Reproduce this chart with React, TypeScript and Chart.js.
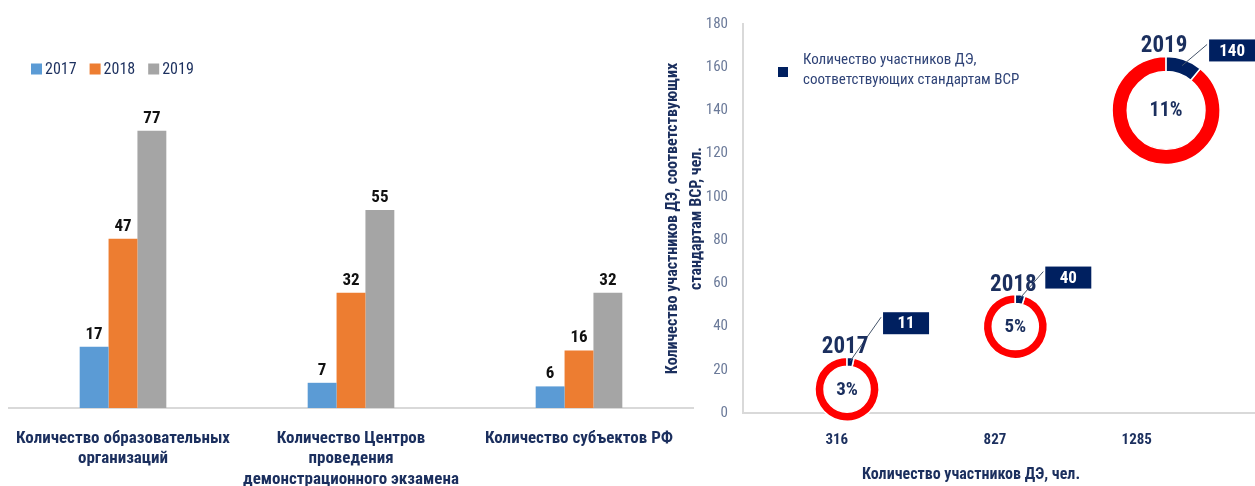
import React, { useEffect, useRef } from 'react';
import { Chart, registerables } from 'chart.js';

Chart.register(...registerables);

const FONT = "'Roboto Condensed', Roboto, sans-serif";
const NAVY = '#1B2F5E';
const NAVY_FILL = '#002060';

// ---- Left chart data ----
const barCategories: string[][] = [
  ['Количество образовательных', 'организаций'],
  ['Количество Центров', 'проведения', 'демонстрационного экзамена'],
  ['Количество субъектов РФ'],
];
const seriesLabels = ['2017', '2018', '2019'];
const series2017 = [17, 7, 6];
const series2018 = [47, 32, 16];
const series2019 = [77, 55, 32];
const seriesColors = ['#5B9BD5', '#ED7D31', '#A5A5A5'];

// ---- Right chart data ----
const ringYears = ['2017', '2018', '2019'];
const totalParticipants = [316, 827, 1285];
const compliantParticipants = [11, 40, 140];
const rightYTicks = [0, 20, 40, 60, 80, 100, 120, 140, 160, 180];
const rightLegendLines = ['Количество участников ДЭ,', 'соответствующих стандартам ВСР'];
const rightYTitle = ['Количество участников ДЭ, соответствующих', 'стандартам ВСР, чел.'];
const rightXTitle = 'Количество участников ДЭ, чел.';

// ---- styles (not data) ----
const ringRadius = [32, 32, 54];
const calloutOffset = [
  [36, -77],
  [30, -60],
  [43, -71],
];

const leftLegendPlugin = {
  id: 'leftLegend',
  afterDraw(chart: any) {
    const ctx = chart.ctx;
    ctx.save();
    ctx.font = `16px ${FONT}`;
    ctx.textBaseline = 'middle';
    ctx.textAlign = 'left';
    let x = 31;
    const y = 69;
    chart.data.datasets.forEach((ds: any) => {
      ctx.fillStyle = ds.backgroundColor;
      ctx.fillRect(x, y - 5.5, 11, 11);
      ctx.fillStyle = NAVY;
      ctx.fillText(ds.label, x + 14, y + 1);
      x += 14 + ctx.measureText(ds.label).width + 13;
    });
    ctx.restore();
  },
};

const barValuePlugin = {
  id: 'barValues',
  afterDatasetsDraw(chart: any) {
    const ctx = chart.ctx;
    ctx.save();
    ctx.font = `bold 17px ${FONT}`;
    ctx.fillStyle = '#111111';
    ctx.textAlign = 'center';
    ctx.textBaseline = 'alphabetic';
    chart.data.datasets.forEach((ds: any, di: number) => {
      const meta = chart.getDatasetMeta(di);
      meta.data.forEach((el: any, i: number) => {
        ctx.fillText(String(ds.data[i]), el.x, el.y - 8);
      });
    });
    ctx.restore();
  },
};

const ringPlugin = {
  id: 'rings',
  afterDatasetsDraw(chart: any) {
    const ctx = chart.ctx;
    const meta = chart.getDatasetMeta(0);
    ctx.save();
    meta.data.forEach((el: any, i: number) => {
      const cx = el.x;
      const cy = el.y;
      const r = ringRadius[i];
      const ri = r * 0.72;
      const frac = compliantParticipants[i] / totalParticipants[i];
      const start = -Math.PI / 2;
      const mid = start + frac * Math.PI * 2;
      const end = start + Math.PI * 2;
      const seg = (a0: number, a1: number, color: string) => {
        ctx.beginPath();
        ctx.arc(cx, cy, r, a0, a1);
        ctx.arc(cx, cy, ri, a1, a0, true);
        ctx.closePath();
        ctx.fillStyle = color;
        ctx.fill();
        ctx.lineWidth = 1.5;
        ctx.strokeStyle = '#FFFFFF';
        ctx.stroke();
      };
      seg(mid, end, '#FF0000');
      seg(start, mid, NAVY_FILL);

      // center percent
      ctx.fillStyle = NAVY;
      ctx.textAlign = 'center';
      ctx.textBaseline = 'middle';
      ctx.font = `bold ${i === 2 ? 20 : 19}px ${FONT}`;
      ctx.fillText(`${Math.round(frac * 100)}%`, cx, cy + 1);

      // leader line
      const [dx, dy] = calloutOffset[i];
      const bx = cx + dx;
      const by = cy + dy;
      const bw = 46;
      const bh = 22;
      const la = start + frac * Math.PI;
      const lr = r * 0.88;
      ctx.beginPath();
      ctx.moveTo(bx - 2, by + 5);
      ctx.lineTo(cx + Math.cos(la) * lr, cy + Math.sin(la) * lr);
      ctx.strokeStyle = '#44546A';
      ctx.lineWidth = 1;
      ctx.stroke();

      // year label
      ctx.font = `bold 23px ${FONT}`;
      ctx.textBaseline = 'alphabetic';
      ctx.fillStyle = NAVY;
      ctx.fillText(ringYears[i], cx - 2, cy - r - 4);

      // callout box
      ctx.fillStyle = NAVY_FILL;
      ctx.fillRect(bx, by, bw, bh);
      ctx.fillStyle = '#FFFFFF';
      ctx.font = `bold 17px ${FONT}`;
      ctx.textBaseline = 'middle';
      ctx.fillText(String(compliantParticipants[i]), bx + bw / 2, by + bh / 2 + 1);
    });
    ctx.restore();
  },
};

const rightLegendPlugin = {
  id: 'rightLegend',
  afterDraw(chart: any) {
    const ctx = chart.ctx;
    ctx.save();
    const x = 778 - 655;
    ctx.fillStyle = NAVY_FILL;
    ctx.fillRect(x, 67, 10, 10);
    ctx.fillStyle = '#2F4377';
    ctx.font = `15px ${FONT}`;
    ctx.textAlign = 'left';
    ctx.textBaseline = 'middle';
    ctx.fillText(rightLegendLines[0], 803 - 655, 60);
    ctx.fillText(rightLegendLines[1], 803 - 655, 80);

    // x-axis title (placed as in the original, left of the plot centre)
    ctx.fillStyle = NAVY;
    ctx.font = `bold 16px ${FONT}`;
    ctx.textAlign = 'center';
    ctx.fillText(rightXTitle, 971 - 655, 475);
    ctx.restore();
  },
};

export default function App() {
  const leftRef = useRef<HTMLCanvasElement>(null);
  const rightRef = useRef<HTMLCanvasElement>(null);

  useEffect(() => {
    const left = new Chart(leftRef.current as HTMLCanvasElement, {
      type: 'bar',
      data: {
        labels: barCategories as any,
        datasets: [series2017, series2018, series2019].map((d, i) => ({
          label: seriesLabels[i],
          data: d,
          backgroundColor: seriesColors[i],
          categoryPercentage: 0.38,
          barPercentage: 1,
        })),
      },
      options: {
        animation: false,
        responsive: false,
        devicePixelRatio: 1,
        layout: { padding: { left: 9, right: 7, top: 84, bottom: 0 } },
        plugins: { legend: { display: false }, tooltip: { enabled: false } },
        scales: {
          x: {
            grid: { display: false, drawTicks: false },
            border: { color: '#D9D9D9', width: 2 },
            ticks: {
              color: NAVY,
              font: { family: FONT, size: 17, weight: 'bold', lineHeight: 1.22 },
              padding: 20,
              maxRotation: 0,
              autoSkip: false,
            },
            afterFit: (s: any) => {
              s.height = 78;
              s.paddingLeft = 0;
              s.paddingRight = 0;
            },
          },
          y: { display: false, min: 0, max: 90 },
        },
      } as any,
      plugins: [barValuePlugin, leftLegendPlugin],
    });

    const right = new Chart(rightRef.current as HTMLCanvasElement, {
      type: 'scatter',
      data: {
        datasets: [
          {
            label: rightLegendLines.join(' '),
            data: totalParticipants.map((t, i) => ({ x: t, y: compliantParticipants[i] })),
            backgroundColor: NAVY_FILL,
            pointRadius: 0,
            xAxisID: 'x',
            yAxisID: 'y',
          },
        ],
      },
      options: {
        animation: false,
        responsive: false,
        devicePixelRatio: 1,
        layout: { padding: { left: 0, right: 0, top: 22, bottom: 0 } },
        plugins: { legend: { display: false }, tooltip: { enabled: false } },
        scales: {
          x: { type: 'linear', display: false, min: 0, max: 1555 },
          x2: {
            type: 'linear',
            position: 'bottom',
            min: 13,
            max: 1667,
            grid: { display: false, drawTicks: false },
            border: { color: '#D9D9D9', width: 2 },
            afterBuildTicks: (s: any) => {
              s.ticks = totalParticipants.map((v) => ({ value: v }));
            },
            ticks: {
              autoSkip: false,
              color: NAVY,
              font: { family: FONT, size: 15, weight: 'bold' },
              padding: 18,
              callback: (v: any) => String(v),
            },
            afterFit: (s: any) => {
              s.height = 73;
              s.paddingLeft = 0;
              s.paddingRight = 0;
            },
          },
          y: {
            min: 0,
            max: 180,
            grid: { display: false, drawTicks: false },
            border: { color: '#D9D9D9', width: 2 },
            afterBuildTicks: (s: any) => {
              s.ticks = rightYTicks.map((v) => ({ value: v }));
            },
            ticks: {
              color: '#6B7A99',
              font: { family: FONT, size: 15 },
              padding: 15,
            },
            title: {
              display: true,
              text: rightYTitle,
              color: NAVY,
              font: { family: FONT, size: 16, weight: 'bold', lineHeight: 1.5 },
              padding: { top: 6, bottom: 0 },
            },
            afterFit: (s: any) => {
              s.width = 88;
            },
          },
        },
      } as any,
      plugins: [ringPlugin, rightLegendPlugin],
    });

    return () => {
      left.destroy();
      right.destroy();
    };
  }, []);

  return (
    <div style={{ position: 'fixed', left: 0, top: 0, width: 1255, height: 486, background: '#fff', overflow: 'hidden' }}>
      <canvas ref={leftRef} width={700} height={486} style={{ position: 'absolute', left: 0, top: 0 }} />
      <canvas ref={rightRef} width={600} height={486} style={{ position: 'absolute', left: 655, top: 0 }} />
    </div>
  );
}
